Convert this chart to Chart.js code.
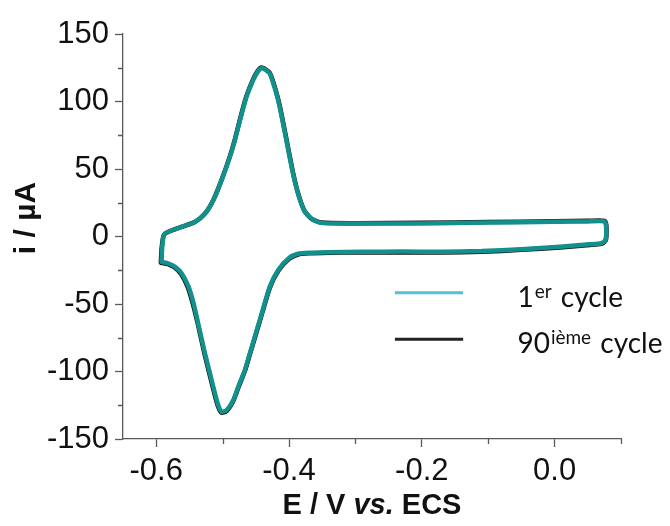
<!DOCTYPE html>
<html>
<head>
<meta charset="utf-8">
<script src="https://cdn.jsdelivr.net/npm/chart.js@4.4.1/dist/chart.umd.min.js"></script>
<style>
  html, body { margin: 0; padding: 0; background: #fff; }
  #wrap { width: 670px; height: 526px; }
</style>
</head>
<body>
<div id="wrap"><canvas id="cv"></canvas></div>
<script>
// cycle 1 (potential in V vs ECS, current in µA), traced round the loop
const e1 = [-0.592, -0.591, -0.589, -0.5865, -0.575, -0.5615, -0.5415, -0.5265, -0.514, -0.5015,
  -0.489, -0.4815, -0.4725, -0.464, -0.454, -0.4465, -0.4415, -0.437, -0.429, -0.4205,
  -0.414, -0.404, -0.394, -0.3865, -0.3775, -0.3665, -0.3515, -0.3015, -0.2, -0.1,
  0.0, 0.05, 0.075, 0.0775, 0.0775, 0.076, 0.07, 0.053, 0.008, -0.05,
  -0.11, -0.17, -0.23, -0.29, -0.34, -0.37, -0.3865, -0.4, -0.4165, -0.429,
  -0.444, -0.459, -0.4665, -0.4765, -0.484, -0.494, -0.5015, -0.5065, -0.5115, -0.519,
  -0.5265, -0.537, -0.544, -0.5515, -0.5615, -0.5715, -0.5815, -0.592]
const i1 = [-18.8, -8, 0, 2.2, 4.8, 7.1, 10.8, 17, 26.9, 41.7,
  59, 71.3, 88.6, 103.4, 115.8, 122.5, 124.8, 124, 120.7, 108.4,
  96, 71.3, 46.7, 31.9, 19.5, 13.3, 10.1, 9.6, 9.7, 10.3,
  10.9, 11.2, 11.2, 8, 0, -3, -5, -5.8, -7.6, -9.4,
  -10.8, -11.3, -11.2, -11.3, -11.6, -12, -12.8, -16, -25, -37.3,
  -62, -86.7, -99, -111.4, -121.3, -128.7, -129.8, -125, -116.3, -101.5,
  -86.7, -64, -49, -37, -27.4, -22.5, -20, -18.8]

// cycle 90
const e90 = [-0.593, -0.5918, -0.5895, -0.587, -0.5755, -0.5618, -0.5418, -0.5268, -0.5143, -0.5018,
  -0.4893, -0.4818, -0.4728, -0.4643, -0.4543, -0.4468, -0.4417, -0.4368, -0.4286, -0.42,
  -0.4135, -0.4035, -0.3935, -0.386, -0.377, -0.366, -0.351, -0.3008, -0.2, -0.1,
  0.0, 0.05, 0.0755, 0.078, 0.078, 0.0765, 0.07, 0.053, 0.008, -0.05,
  -0.11, -0.17, -0.23, -0.29, -0.34, -0.37, -0.3863, -0.3998, -0.4163, -0.4288,
  -0.4438, -0.4588, -0.4663, -0.4763, -0.4839, -0.494, -0.502, -0.5072, -0.5123, -0.5198,
  -0.5273, -0.5378, -0.545, -0.5525, -0.5623, -0.5723, -0.5823, -0.593]
const i90 = [-19.4, -8.5, -0.3, 2.0, 4.7, 7.1, 10.7, 16.8, 26.7, 41.6,
  59, 71.4, 88.8, 103.7, 116.2, 123, 125.2, 124.3, 120.9, 108.5,
  96, 71.2, 46.4, 31.5, 19.2, 13.1, 10.3, 9.9, 10.1, 10.7,
  11.3, 11.6, 11.6, 8, 0, -3.3, -5.5, -6.3, -8.1, -9.9,
  -11.3, -11.8, -11.8, -11.8, -12.1, -12.5, -13.3, -16.5, -25.5, -37.9,
  -62.5, -87.1, -99.5, -112, -121.9, -129.4, -130.4, -125.5, -116.7, -101.8,
  -86.9, -63.8, -49.5, -37.5, -28, -23, -20.5, -19.4]

const xMajor = [-0.6, -0.4, -0.2, 0.0]
const xMinor = [-0.5, -0.3, -0.1, 0.1]
const yMajor = [-150, -100, -50, 0, 50, 100, 150]
const yMinor = [-125, -75, -25, 25, 75, 125]

// legend text pieces: base, superscript, rest
const legendParts = [["1", "er", " cycle"], ["90", "ième", " cycle"]]

const TEAL = "#12908b"
const AXIS = "#5a5a5a"
const FONT = "'Liberation Sans', Arial, sans-serif"

const pts = (xs, ys) => xs.map((x, k) => ({ x, y: ys[k] }))

const minorTicks = {
  id: "minorTicks",
  afterDraw(chart) {
    const ctx = chart.ctx, a = chart.chartArea
    const xs = chart.scales.x, ys = chart.scales.y
    ctx.save()
    ctx.strokeStyle = AXIS
    ctx.lineWidth = 1.3
    ctx.beginPath()
    xMinor.forEach(v => {
      const px = Math.round(xs.getPixelForValue(v)) + 0.5
      ctx.moveTo(px, a.bottom); ctx.lineTo(px, a.bottom + 5)
    })
    yMinor.forEach(v => {
      const py = Math.round(ys.getPixelForValue(v)) + 0.5
      ctx.moveTo(a.left, py); ctx.lineTo(a.left - 5, py)
    })
    ctx.stroke()
    ctx.restore()
  }
}

const titles = {
  id: "titles",
  afterDraw(chart) {
    const ctx = chart.ctx, a = chart.chartArea
    ctx.save()
    ctx.fillStyle = "#111"
    // y title
    ctx.font = "bold 30px " + FONT
    ctx.textAlign = "center"
    ctx.textBaseline = "middle"
    ctx.translate(27, 218)
    ctx.rotate(-Math.PI / 2)
    ctx.fillText("i / µA", 0, 0)
    ctx.setTransform(1, 0, 0, 1, 0, 0)
    // x title with italic "vs."
    const parts = [["E / V ", "bold"], ["vs.", "italic bold"], [" ECS", "bold"]]
    let w = 0
    parts.forEach(p => { ctx.font = p[1] + " 29px " + FONT; w += ctx.measureText(p[0]).width })
    let x = (a.left + a.right) / 2 - w / 2
    ctx.textAlign = "left"
    ctx.textBaseline = "alphabetic"
    parts.forEach(p => {
      ctx.font = p[1] + " 29px " + FONT
      ctx.fillText(p[0], x, 514)
      x += ctx.measureText(p[0]).width
    })
    ctx.restore()
  }
}

const legend = {
  id: "cvLegend",
  afterDraw(chart) {
    const ctx = chart.ctx, a = chart.chartArea
    const h = a.bottom - a.top, w = a.right - a.left
    const colors = ["#4fc3d2", "#222222"]
    ctx.save()
    legendParts.forEach((p, k) => {
      const y = a.top + (0.639 + k * 0.115) * h
      ctx.strokeStyle = colors[k]
      ctx.lineWidth = 3
      ctx.beginPath()
      ctx.moveTo(a.left + 0.546 * w, y)
      ctx.lineTo(a.left + 0.683 * w, y)
      ctx.stroke()
      let x = a.left + 0.792 * w
      const base = y + 14
      ctx.fillStyle = "#111"
      ctx.textBaseline = "alphabetic"
      ctx.font = "28px Lato, sans-serif"
      ctx.fillText(p[0], x, base); x += ctx.measureText(p[0]).width + 1
      ctx.font = "19px Lato, sans-serif"
      ctx.fillText(p[1], x, base - 9); x += ctx.measureText(p[1]).width + 2
      ctx.font = "28px Lato, sans-serif"
      ctx.fillText(p[2], x, base)
    })
    ctx.restore()
  }
}

new Chart(document.getElementById("cv"), {
  type: "scatter",
  data: {
    datasets: [
      { label: "1er cycle", data: pts(e1, i1), borderColor: TEAL, backgroundColor: TEAL },
      { label: "90ième cycle", data: pts(e90, i90), borderColor: "#151515", backgroundColor: "#151515" }
    ]
  },
  options: {
    responsive: true,
    maintainAspectRatio: false,
    animation: false,
    showLine: true,
    elements: {
      point: { radius: 0, hoverRadius: 0 },
      line: { borderWidth: 4.5, tension: 0.2, borderJoinStyle: "round", borderCapStyle: "round" }
    },
    layout: { padding: { top: 34, right: 49, left: 0, bottom: 0 } },
    plugins: { legend: { display: false }, tooltip: { enabled: false } },
    scales: {
      x: {
        type: "linear", min: -0.65, max: 0.1,
        afterBuildTicks: s => { s.ticks = xMajor.map(v => ({ value: v })) },
        afterFit: s => { s.height = 87 },
        ticks: {
          color: "#111", padding: 6,
          font: { family: FONT, size: 31 },
          callback: v => (Math.abs(v) < 1e-9 ? 0 : v).toFixed(1),
          maxRotation: 0, autoSkip: false
        },
        grid: { drawOnChartArea: false, drawTicks: true, tickLength: 8, tickColor: AXIS, tickWidth: 1.3 },
        border: { display: true, color: AXIS, width: 1.3 }
      },
      y: {
        type: "linear", min: -150, max: 150,
        afterBuildTicks: s => { s.ticks = yMajor.map(v => ({ value: v })) },
        afterFit: s => { s.width = 123 },
        ticks: {
          color: "#111", padding: 6,
          font: { family: FONT, size: 31 },
          callback: v => String(v),
          autoSkip: false
        },
        grid: { drawOnChartArea: false, drawTicks: true, tickLength: 8, tickColor: AXIS, tickWidth: 1.3 },
        border: { display: true, color: AXIS, width: 1.3 }
      }
    }
  },
  plugins: [minorTicks, titles, legend]
})
</script>
</body>
</html>
